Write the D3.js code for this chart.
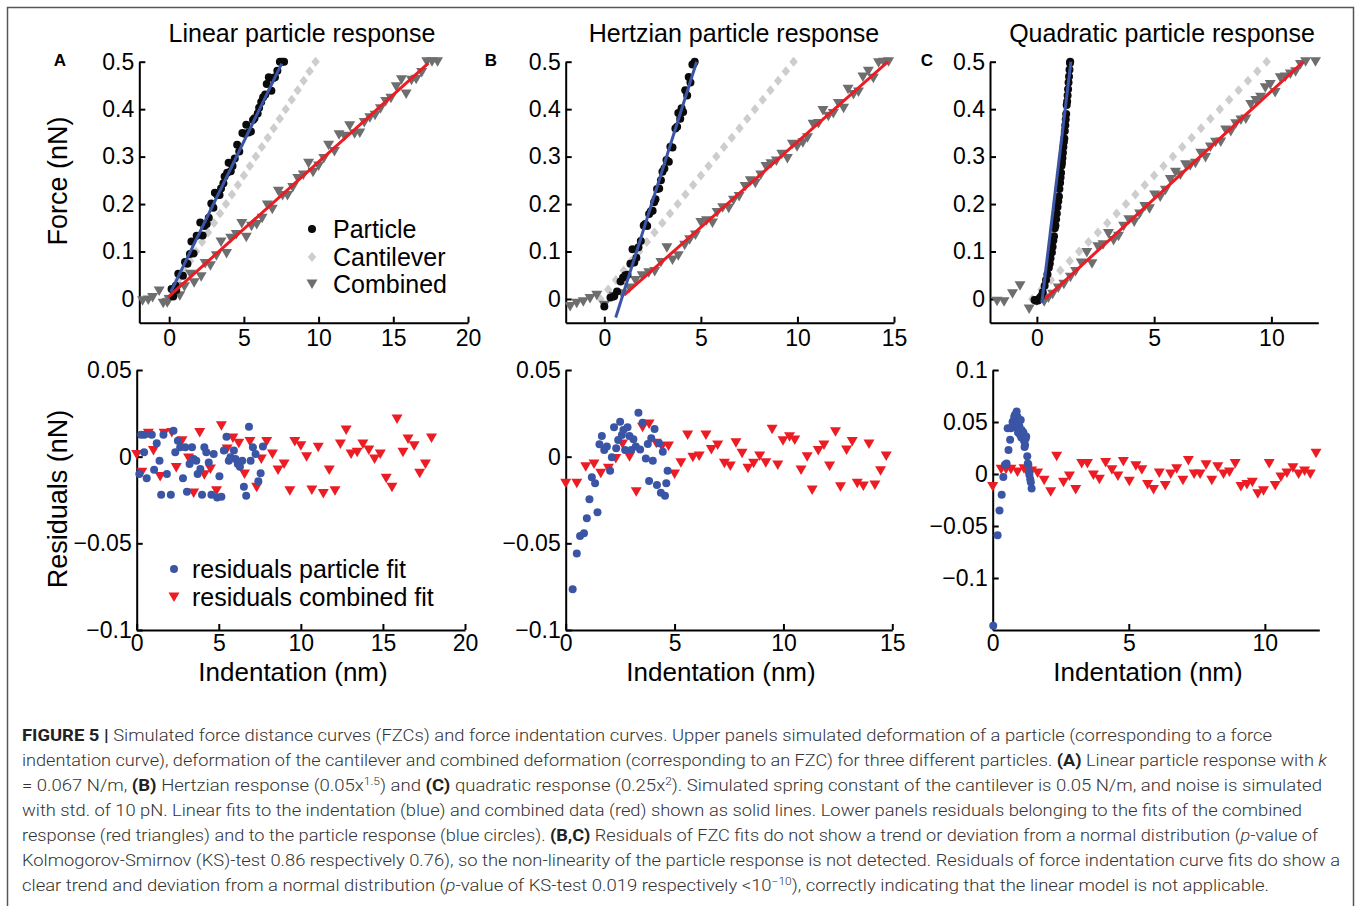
<!DOCTYPE html>
<meta charset="utf-8">
<title>Figure 5 - simulated force curves</title>
<style>
  body { margin: 0; background: #fff; }
  svg { display: block; font-family: "Liberation Sans", Arial, sans-serif; }
  .axis path, .axis line { stroke: #000; stroke-width: 2; }
  .axis text { font-size: 23px; fill: #000; }
  .cap { font-family: Roboto, "Liberation Sans", sans-serif; font-weight: 300; font-size: 17px; fill: #333; }
</style>
<body>
<script src="https://cdn.jsdelivr.net/npm/d3@7"></script>
<script>

// ---- data (x in nm, y in nN) ----

// cantilever deformation (grey diamonds), same in every panel
let cantX = [-0.2, 0.2, 0.6, 1.0, 1.4, 1.8, 2.2, 2.6, 3.0, 3.4, 3.8, 4.2, 4.6, 5.0, 5.4, 5.8, 6.2, 6.6, 7.0, 7.4, 7.8, 8.2, 8.6, 9.0, 9.4, 9.8];
let cantY = [0, 0.02, 0.04, 0.06, 0.08, 0.10, 0.12, 0.14, 0.16, 0.18, 0.20, 0.22, 0.24, 0.26, 0.28, 0.30, 0.32, 0.34, 0.36, 0.38, 0.40, 0.42, 0.44, 0.46, 0.48, 0.50];

// A: linear particle
let particleA = [[0.16,0.021],[0.27,0.005],[0.45,0.028],[0.47,0.019],[0.61,0.053],[0.92,0.049],[1.06,0.078],[1.22,0.074],[1.39,0.095],[1.49,0.121],[1.63,0.096],[1.84,0.133],[2.08,0.161],[2.24,0.134],[2.35,0.154],[2.51,0.158],[2.65,0.171],[2.82,0.201],[2.96,0.192],[3.06,0.224],[3.22,0.219],[3.37,0.219],[3.47,0.233],[3.63,0.244],[3.71,0.258],[3.88,0.266],[3.98,0.287],[4.12,0.269],[4.24,0.280],[4.39,0.296],[4.55,0.325],[4.69,0.311],[4.90,0.350],[5.04,0.348],[5.16,0.367],[5.31,0.351],[5.47,0.353],[5.61,0.377],[5.71,0.381],[5.92,0.391],[6.02,0.403],[6.16,0.415],[6.29,0.425],[6.43,0.431],[6.53,0.453],[6.67,0.467],[6.84,0.439],[6.94,0.465],[7.08,0.467],[7.24,0.481],[7.41,0.500],[7.55,0.500],[7.69,0.500]];
let combinedA = [[-1.78,-0.004],[-1.40,-0.002],[-1.11,0.003],[-0.67,0.017],[-0.40,-0.009],[-0.13,-0.008],[0,-0.001],[0.31,0.018],[0.71,0.007],[1.02,0.026],[1.43,0.052],[1.67,0.034],[2.14,0.047],[2.41,0.075],[2.76,0.070],[3.16,0.091],[3.47,0.120],[3.84,0.096],[4.12,0.128],[4.49,0.136],[4.86,0.159],[5.16,0.130],[5.51,0.153],[5.86,0.157],[6.22,0.170],[6.57,0.198],[6.90,0.189],[7.31,0.227],[7.59,0.218],[7.92,0.218],[8.27,0.235],[8.61,0.254],[8.98,0.261],[9.33,0.286],[9.63,0.267],[10.00,0.280],[10.35,0.296],[10.67,0.324],[11.06,0.311],[11.37,0.346],[11.73,0.343],[12.08,0.365],[12.41,0.348],[12.76,0.350],[13.06,0.372],[13.43,0.382],[13.78,0.387],[14.14,0.401],[14.49,0.416],[14.84,0.423],[15.20,0.447],[15.55,0.462],[15.86,0.432],[16.22,0.461],[16.53,0.463],[16.90,0.477],[17.24,0.500],[17.59,0.500],[17.96,0.500]];
let fitParticleA = [[0.11,0.015],[7.53,0.496]];
let fitCombinedA = [[-0.07,0.004],[17.35,0.497]];
let residParticleA = [[0.16,-0.0100],[0.27,0.0127],[0.45,0.0025],[0.47,0.0127],[0.61,-0.0125],[0.92,0.0127],[1.06,-0.0075],[1.22,0.0077],[1.39,-0.0023],[1.49,-0.0219],[1.63,0.0127],[1.84,-0.0100],[2.08,-0.0219],[2.24,0.0150],[2.35,0.0025],[2.51,0.0092],[2.65,0.0054],[2.82,-0.0125],[2.96,0.0054],[3.06,-0.0202],[3.22,-0.0042],[3.37,0.0054],[3.47,-0.0013],[3.63,-0.0023],[3.71,-0.0100],[3.88,-0.0071],[3.98,-0.0219],[4.12,0.0054],[4.24,0.0025],[4.39,-0.0033],[4.55,-0.0219],[4.69,0.0015],[4.90,-0.0235],[5.04,-0.0113],[5.16,-0.0231],[5.31,0.0035],[5.47,0.0115],[5.61,-0.0023],[5.71,-0.0004],[5.92,0.0035],[6.02,-0.0013],[6.16,-0.0042],[6.29,-0.0058],[6.43,-0.0023],[6.53,-0.0173],[6.67,-0.0225],[6.84,0.0173],[6.94,-0.0023],[7.08,0.0054],[7.24,0.0015],[7.41,-0.0142],[7.55,-0.0096],[7.69,0.0058]];
let residCombinedA = [[0,0.0012],[0.31,-0.0090],[0.71,0.0135],[1.02,0.0035],[1.43,-0.0115],[1.67,0.0135],[2.14,0.0140],[2.41,-0.0062],[2.76,0.0092],[3.16,-0.0008],[3.47,-0.0210],[3.84,0.0140],[4.12,-0.0104],[4.49,-0.0071],[4.86,-0.0196],[5.16,0.0179],[5.51,0.0044],[5.86,0.0108],[6.22,0.0077],[6.57,-0.0100],[6.90,0.0088],[7.31,-0.0177],[7.59,-0.0013],[7.92,0.0088],[8.27,0.0015],[8.61,-0.0077],[8.98,-0.0042],[9.33,-0.0196],[9.63,0.0088],[10.00,0.0063],[10.35,0.0000],[10.67,-0.0192],[11.06,0.0054],[11.37,-0.0212],[11.73,-0.0077],[12.08,-0.0196],[12.41,0.0073],[12.76,0.0154],[13.06,0.0015],[13.43,0.0025],[13.78,0.0073],[14.14,0.0038],[14.49,-0.0013],[14.84,0.0015],[15.20,-0.0125],[15.55,-0.0177],[15.86,0.0217],[16.22,0.0025],[16.53,0.0102],[16.90,0.0063],[17.24,-0.0096],[17.59,-0.0042],[17.96,0.0108]];

// B: Hertzian particle
let particleB = [[0.00,-0.016],[0.32,0.003],[0.51,0.006],[0.66,0.016],[0.84,0.037],[0.97,0.045],[1.09,0.050],[1.20,0.051],[1.35,0.074],[1.46,0.105],[1.55,0.077],[1.66,0.087],[1.77,0.109],[1.89,0.122],[2.04,0.155],[2.12,0.158],[2.22,0.154],[2.32,0.179],[2.41,0.185],[2.50,0.186],[2.58,0.204],[2.65,0.210],[2.73,0.232],[2.84,0.233],[2.93,0.250],[3.01,0.268],[3.11,0.275],[3.22,0.293],[3.34,0.289],[3.42,0.321],[3.53,0.319],[3.68,0.359],[3.77,0.363],[3.83,0.392],[3.93,0.380],[4.00,0.402],[4.08,0.394],[4.19,0.440],[4.29,0.429],[4.37,0.468],[4.46,0.456],[4.56,0.494],[4.62,0.495],[4.68,0.500]];
let combinedB = [[-1.77,-0.016],[-1.43,-0.009],[-1.09,-0.006],[-0.74,0.001],[-0.39,0.008],[0,-0.013],[0.51,0.006],[0.92,0.011],[1.30,0.023],[1.61,0.039],[1.96,0.049],[2.30,0.055],[2.61,0.058],[2.93,0.077],[3.24,0.108],[3.53,0.082],[3.83,0.091],[4.16,0.113],[4.42,0.125],[4.72,0.135],[5.00,0.161],[5.29,0.165],[5.60,0.160],[5.84,0.182],[6.13,0.192],[6.44,0.191],[6.69,0.208],[6.98,0.216],[7.29,0.237],[7.56,0.249],[7.82,0.244],[8.10,0.261],[8.37,0.279],[8.63,0.285],[8.91,0.291],[9.19,0.305],[9.48,0.296],[9.74,0.326],[9.98,0.321],[10.28,0.329],[10.52,0.340],[10.81,0.368],[11.09,0.370],[11.32,0.397],[11.60,0.385],[11.86,0.391],[12.12,0.412],[12.39,0.402],[12.62,0.442],[12.90,0.431],[13.16,0.436],[13.39,0.468],[13.67,0.480],[13.93,0.465],[14.20,0.498],[14.46,0.499],[14.72,0.500]];
let fitParticleB = [[0.59,-0.039],[4.78,0.500]];
let fitCombinedB = [[1.02,0.008],[14.69,0.500]];
let residParticleB = [[0.32,-0.0765],[0.51,-0.0558],[0.66,-0.0458],[0.84,-0.0442],[0.97,-0.0356],[1.09,-0.0246],[1.20,-0.0119],[1.35,-0.0154],[1.46,-0.0321],[1.55,0.0071],[1.66,0.0119],[1.77,0.0038],[1.89,0.0058],[2.04,-0.0081],[2.12,-0.0004],[2.22,0.0169],[2.32,0.0048],[2.41,0.0096],[2.50,0.0202],[2.58,0.0125],[2.65,0.0154],[2.73,0.0038],[2.84,0.0169],[2.93,0.0119],[3.01,0.0038],[3.11,0.0100],[3.22,0.0058],[3.34,0.0254],[3.42,0.0042],[3.53,0.0196],[3.68,-0.0010],[3.77,0.0073],[3.83,-0.0140],[3.93,0.0106],[4.00,-0.0023],[4.08,0.0160],[4.19,-0.0163],[4.29,0.0077],[4.37,-0.0208],[4.46,0.0029],[4.56,-0.0225],[4.62,-0.0154],[4.68,-0.0081]];
let residCombinedB = [[0,-0.0154],[0.51,-0.0154],[0.92,-0.0058],[1.30,-0.0042],[1.61,-0.0096],[1.96,-0.0067],[2.30,-0.0010],[2.61,0.0073],[2.93,0.0000],[3.24,-0.0202],[3.53,0.0169],[3.83,0.0188],[4.16,0.0077],[4.42,0.0058],[4.72,0.0062],[5.00,-0.0100],[5.29,-0.0035],[5.60,0.0125],[5.84,-0.0004],[6.13,0.0004],[6.44,0.0125],[6.69,0.0042],[6.98,0.0067],[7.29,-0.0038],[7.56,-0.0054],[7.82,0.0081],[8.10,0.0019],[8.37,-0.0067],[8.63,-0.0038],[8.91,0.0004],[9.19,-0.0035],[9.48,0.0158],[9.74,-0.0048],[9.98,0.0092],[10.28,0.0115],[10.52,0.0096],[10.81,-0.0077],[11.09,0.0000],[11.32,-0.0192],[11.60,0.0035],[11.86,0.0067],[12.12,-0.0054],[12.39,0.0144],[12.62,-0.0173],[12.90,0.0038],[13.16,0.0087],[13.39,-0.0154],[13.67,-0.0169],[13.93,0.0073],[14.20,-0.0163],[14.46,-0.0081],[14.72,0.0004]];

// C: quadratic particle
let particleC = [[-0.10,-0.002],[-0.03,-0.004],[0.05,-0.003],[0.12,0.002],[0.18,0.006],[0.25,0.014],[0.33,0.028],[0.39,0.040],[0.45,0.052],[0.51,0.066],[0.55,0.075],[0.58,0.086],[0.64,0.098],[0.67,0.110],[0.70,0.123],[0.73,0.132],[0.76,0.149],[0.79,0.155],[0.82,0.168],[0.85,0.180],[0.88,0.194],[0.91,0.206],[0.94,0.216],[0.96,0.232],[0.99,0.245],[1.01,0.256],[1.03,0.266],[1.05,0.281],[1.07,0.287],[1.09,0.297],[1.11,0.308],[1.13,0.320],[1.15,0.331],[1.17,0.338],[1.19,0.354],[1.21,0.366],[1.23,0.378],[1.25,0.390],[1.27,0.409],[1.29,0.416],[1.31,0.429],[1.33,0.442],[1.35,0.456],[1.37,0.469],[1.39,0.483],[1.41,0.497],[1.42,0.500]];
let combinedC = [[-1.70,-0.005],[-1.40,-0.006],[-1.04,0.011],[-0.72,0.028],[-0.33,-0.021],[0,-0.004],[0.31,-0.006],[0.49,0.002],[0.67,0.010],[0.91,0.023],[1.15,0.031],[1.43,0.046],[1.65,0.058],[1.89,0.076],[2.13,0.098],[2.35,0.074],[2.60,0.110],[2.82,0.114],[3.05,0.138],[3.27,0.123],[3.48,0.132],[3.70,0.153],[3.92,0.167],[4.15,0.162],[4.38,0.179],[4.60,0.195],[4.80,0.190],[5.02,0.219],[5.26,0.215],[5.48,0.229],[5.69,0.252],[5.91,0.267],[6.12,0.261],[6.34,0.283],[6.54,0.281],[6.76,0.286],[6.99,0.307],[7.19,0.298],[7.40,0.320],[7.62,0.330],[7.84,0.331],[8.05,0.356],[8.27,0.353],[8.48,0.369],[8.70,0.377],[8.91,0.379],[9.12,0.410],[9.34,0.418],[9.54,0.425],[9.74,0.445],[9.95,0.452],[10.16,0.435],[10.38,0.466],[10.59,0.468],[10.81,0.474],[11.03,0.479],[11.24,0.494],[11.46,0.500],[11.88,0.500]];
let fitParticleC = [[0.21,-0.008],[1.45,0.500]];
let fitCombinedC = [[0.35,0.000],[11.37,0.500]];
let residParticleC = [[0.02,-0.146],[0.18,-0.059],[0.25,-0.035],[0.33,-0.020],[0.39,-0.003],[0.45,0.009],[0.51,0.010],[0.55,0.044],[0.58,0.023],[0.64,0.033],[0.67,0.044],[0.70,0.045],[0.73,0.050],[0.76,0.051],[0.79,0.055],[0.82,0.057],[0.85,0.053],[0.86,0.048],[0.88,0.060],[0.90,0.045],[0.91,0.055],[0.93,0.040],[0.94,0.050],[0.96,0.042],[0.98,0.046],[1.00,0.038],[1.03,0.052],[1.05,0.035],[1.07,0.042],[1.10,0.037],[1.13,0.040],[1.15,0.032],[1.17,0.026],[1.19,0.028],[1.21,0.034],[1.23,0.036],[1.27,0.017],[1.29,0.010],[1.31,0.009],[1.33,0.002],[1.35,-0.001],[1.38,-0.005],[1.40,-0.008],[1.43,-0.014]];
let residCombinedC = [[0,-0.012],[0.31,0.0045],[0.49,0.0045],[0.67,0.0045],[0.91,0.002],[1.15,0.005],[1.43,0.003],[1.65,0.001],[1.89,-0.006],[2.13,-0.017],[2.35,0.017],[2.60,-0.008],[2.82,-0.002],[3.05,-0.015],[3.27,0.010],[3.48,0.010],[3.70,-0.001],[3.92,-0.005],[4.15,0.011],[4.38,0.004],[4.60,-0.002],[4.80,0.012],[5.02,-0.007],[5.26,0.008],[5.48,0.004],[5.69,-0.010],[5.91,-0.015],[6.12,0.001],[6.34,-0.011],[6.54,0.000],[6.76,0.005],[6.99,-0.006],[7.19,0.013],[7.40,0.000],[7.62,0.000],[7.84,0.009],[8.05,-0.006],[8.27,0.007],[8.48,0.000],[8.70,0.002],[8.91,0.010],[9.12,-0.012],[9.34,-0.010],[9.54,-0.008],[9.74,-0.019],[9.95,-0.016],[10.16,0.010],[10.38,-0.011],[10.59,-0.003],[10.81,0.001],[11.03,0.006],[11.24,0.000],[11.46,0.003],[11.67,0.000],[11.88,0.020]];

// tick values
let forceTicks = [0, 0.1, 0.2, 0.3, 0.4, 0.5];
let residTicksAB = [-0.1, -0.05, 0, 0.05];
let residTicksC = [-0.1, -0.05, 0, 0.05, 0.1];
let xTicksA = [0, 5, 10, 15, 20];
let xTicksB = [0, 5, 10, 15];
let xTicksC = [0, 5, 10];

let titles = ["Linear particle response", "Hertzian particle response", "Quadratic particle response"];
let panelLetters = ["A", "B", "C"];
let topLegend = ["Particle", "Cantilever", "Combined"];
let bottomLegend = ["residuals particle fit", "residuals combined fit"];

// ---- drawing ----
let black = "#0a0a0a", grey = "#6e6e6e", lightGrey = "#cdcdcd", blue = "#3b55a6", red = "#ec1c24";

let svg = d3.select("body").append("svg")
    .attr("width", 1357)
    .attr("height", 906);

// frame of the figure
svg.append("path")
    .attr("d", "M7.5,906V7.5H1353.5V906")
    .attr("fill", "none")
    .attr("stroke", "#555")
    .attr("stroke-width", 1.5);

let fmt = v => v < 0 ? "\u2212" + Math.abs(v) : String(v);
let triDown = "M-5.5,-4.5L5.5,-4.5L0,5Z";
let diamond = "M0,-5L4.2,0L0,5L-4.2,0Z";

let topPanels = [
    { x: [139.3, 468], xd: [-2, 20], xt: xTicksA, particle: particleA, combined: combinedA, fp: fitParticleA, fc: fitCombinedA, tx: 302, lx: 60 },
    { x: [565.7, 894], xd: [-2, 15], xt: xTicksB, particle: particleB, combined: combinedB, fp: fitParticleB, fc: fitCombinedB, tx: 734, lx: 491 },
    { x: [990, 1318.3], xd: [-2, 12], xt: xTicksC, particle: particleC, combined: combinedC, fp: fitParticleC, fc: fitCombinedC, tx: 1162, lx: 927 }
];
let bottomPanels = [
    { x: [136.7, 465], xd: [0, 20], yd: [-0.1, 0.05], yt: residTicksAB, xt: xTicksA, rp: residParticleA, rc: residCombinedA, cx: 293 },
    { x: [565.7, 892.3], xd: [0, 15], yd: [-0.1, 0.05], yt: residTicksAB, xt: xTicksB, rp: residParticleB, rc: residCombinedB, cx: 721 },
    { x: [992.7, 1319.3], xd: [0, 12], yd: [-0.15, 0.1], yt: residTicksC, xt: xTicksC, rp: residParticleC, rc: residCombinedC, cx: 1148 }
];

let line = (xs, ys) => d3.line().x(d => xs(d[0])).y(d => ys(d[1]));

topPanels.forEach((p, i) => {
    let x = d3.scaleLinear().domain(p.xd).range(p.x);
    let y = d3.scaleLinear().domain([-0.05, 0.5]).range([322.7, 61.7]);
    let g = svg.append("g");

    g.append("g").attr("class", "axis")
        .attr("transform", `translate(0,${y(-0.05)})`)
        .call(d3.axisBottom(x).tickValues(p.xt).tickFormat(fmt).tickSizeInner(-6).tickSizeOuter(0).tickPadding(7));
    g.append("g").attr("class", "axis")
        .attr("transform", `translate(${x(p.xd[0])},0)`)
        .call(d3.axisLeft(y).tickValues(forceTicks).tickFormat(fmt).tickSizeInner(-6).tickSizeOuter(0).tickPadding(5));

    let cant = cantX.map((v, k) => [v, cantY[k]]);
    g.selectAll(".cant").data(cant).join("path")
        .attr("d", diamond)
        .attr("transform", d => `translate(${x(d[0])},${y(d[1])})`)
        .attr("fill", lightGrey);
    g.selectAll(".comb").data(p.combined).join("path")
        .attr("d", triDown)
        .attr("transform", d => `translate(${x(d[0])},${y(d[1])})`)
        .attr("fill", grey);
    g.selectAll(".part").data(p.particle).join("circle")
        .attr("cx", d => x(d[0])).attr("cy", d => y(d[1])).attr("r", 4)
        .attr("fill", black);
    g.append("path").datum(p.fc).attr("d", line(x, y))
        .attr("stroke", red).attr("stroke-width", 3).attr("fill", "none");
    g.append("path").datum(p.fp).attr("d", line(x, y))
        .attr("stroke", blue).attr("stroke-width", 3).attr("fill", "none");

    g.append("text").attr("x", p.tx).attr("y", 42)
        .attr("text-anchor", "middle").attr("font-size", 25)
        .text(titles[i]);
    g.append("text").attr("x", p.lx).attr("y", 66)
        .attr("text-anchor", "middle").attr("font-size", 17).attr("font-weight", "bold")
        .text(panelLetters[i]);
});

bottomPanels.forEach((p, i) => {
    let x = d3.scaleLinear().domain(p.xd).range(p.x);
    let y = d3.scaleLinear().domain(p.yd).range([630, 370]);
    let g = svg.append("g");

    g.append("g").attr("class", "axis")
        .attr("transform", `translate(0,${y(p.yd[0])})`)
        .call(d3.axisBottom(x).tickValues(p.xt).tickFormat(fmt).tickSizeInner(-6).tickSizeOuter(0).tickPadding(5));
    g.append("g").attr("class", "axis")
        .attr("transform", `translate(${x(0)},0)`)
        .call(d3.axisLeft(y).tickValues(p.yt).tickFormat(fmt).tickSizeInner(-6).tickSizeOuter(0).tickPadding(5));

    g.selectAll(".rc").data(p.rc).join("path")
        .attr("d", triDown)
        .attr("transform", d => `translate(${x(d[0])},${y(d[1])})`)
        .attr("fill", red);
    g.selectAll(".rp").data(p.rp).join("circle")
        .attr("cx", d => x(d[0])).attr("cy", d => y(d[1])).attr("r", 4)
        .attr("fill", blue);

    g.append("text").attr("x", p.cx).attr("y", 681)
        .attr("text-anchor", "middle").attr("font-size", 26)
        .text("Indentation (nm)");
});

// y axis titles
svg.append("text").attr("transform", "translate(67,181)rotate(-90)")
    .attr("text-anchor", "middle").attr("font-size", 27).text("Force (nN)");
svg.append("text").attr("transform", "translate(67,499)rotate(-90)")
    .attr("text-anchor", "middle").attr("font-size", 27).text("Residuals (nN)");

// legends (panel A)
let lgTop = svg.append("g");
let rowsTop = [229, 257, 284];
lgTop.append("circle").attr("cx", 312).attr("cy", rowsTop[0]).attr("r", 4).attr("fill", black);
lgTop.append("path").attr("d", diamond).attr("transform", `translate(312,${rowsTop[1]})`).attr("fill", lightGrey);
lgTop.append("path").attr("d", triDown).attr("transform", `translate(312,${rowsTop[2]})`).attr("fill", grey);
lgTop.selectAll("text").data(topLegend).join("text")
    .attr("x", 333).attr("y", (d, k) => rowsTop[k] + 9)
    .attr("font-size", 25).text(d => d);

let lgBot = svg.append("g");
let rowsBot = [569, 597];
lgBot.append("circle").attr("cx", 174).attr("cy", rowsBot[0]).attr("r", 4).attr("fill", blue);
lgBot.append("path").attr("d", triDown).attr("transform", `translate(174,${rowsBot[1]})`).attr("fill", red);
lgBot.selectAll("text").data(bottomLegend).join("text")
    .attr("x", 192).attr("y", (d, k) => rowsBot[k] + 9)
    .attr("font-size", 25).text(d => d);

// caption
let capLines = [
    [["b", "FIGURE 5 | "], ["", "Simulated force distance curves (FZCs) and force indentation curves. Upper panels simulated deformation of a particle (corresponding to a force"]],
    [["", "indentation curve), deformation of the cantilever and combined deformation (corresponding to an FZC) for three different particles. "], ["b", "(A)"], ["", " Linear particle response with "], ["i", "k"]],
    [["", "= 0.067 N/m, "], ["b", "(B)"], ["", " Hertzian response (0.05x"], ["sup", "1.5"], ["", ") and "], ["b", "(C)"], ["", " quadratic response (0.25x"], ["sup", "2"], ["", "). Simulated spring constant of the cantilever is 0.05 N/m, and noise is simulated"]],
    [["", "with std. of 10 pN. Linear fits to the indentation (blue) and combined data (red) shown as solid lines. Lower panels residuals belonging to the fits of the combined"]],
    [["", "response (red triangles) and to the particle response (blue circles). "], ["b", "(B,C)"], ["", " Residuals of FZC fits do not show a trend or deviation from a normal distribution ("], ["i", "p"], ["", "-value of"]],
    [["", "Kolmogorov-Smirnov (KS)-test 0.86 respectively 0.76), so the non-linearity of the particle response is not detected. Residuals of force indentation curve fits do show a"]],
    [["", "clear trend and deviation from a normal distribution ("], ["i", "p"], ["", "-value of KS-test 0.019 respectively <10"], ["sup", "\u221210"], ["", "), correctly indicating that the linear model is not applicable."]]
];
let capEnds = [1272, 1327, 1322, 1302, 1318, 1340, 1269];

capLines.forEach((parts, k) => {
    let t = svg.append("text").attr("class", "cap")
        .attr("x", 22).attr("y", 741 + k * 25)
        .attr("textLength", capEnds[k] - 22)
        .attr("lengthAdjust", "spacingAndGlyphs");
    parts.forEach(([style, s]) => {
        let ts = t.append("tspan").text(s);
        if (style === "b") ts.attr("font-weight", "bold").attr("fill", "#222");
        if (style === "i") ts.attr("font-style", "italic");
        if (style === "sup") ts.attr("baseline-shift", "super").attr("font-size", 11);
    });
});

</script>
</body>
